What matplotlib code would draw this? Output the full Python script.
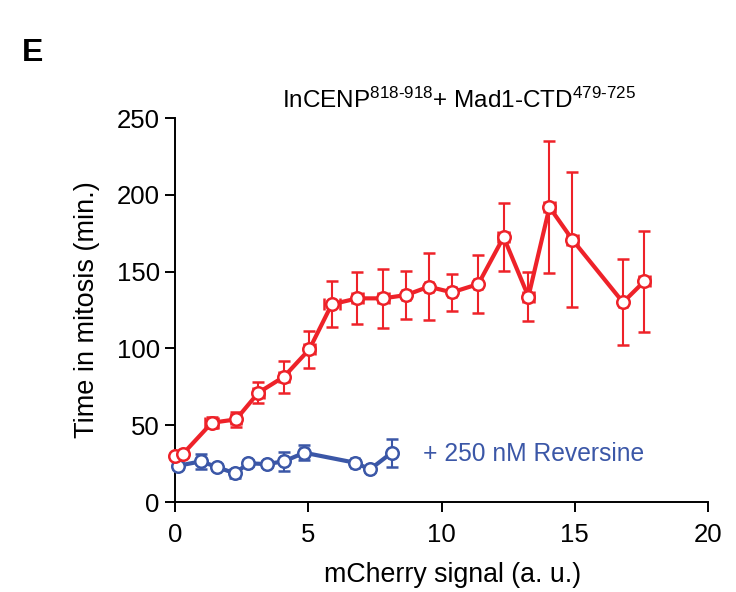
import matplotlib.pyplot as plt

plt.rcParams.update(
    {
        "font.family": ["Liberation Sans", "DejaVu Sans"],
        "mathtext.fontset": "custom",
        "mathtext.rm": "Liberation Sans",
        "mathtext.it": "Liberation Sans",
        "mathtext.bf": "Liberation Sans:bold",
        "font.size": 18,
    }
)

RED = "#ee2229"
BLUE = "#3b57a7"

# InCENP818-918 + Mad1-CTD479-725
red_x = [0.0, 0.29, 1.38, 2.29, 3.13, 4.09, 5.04, 5.88, 6.84, 7.82, 8.68, 9.52,
         10.39, 11.38, 12.33, 13.26, 14.05, 14.91, 16.81, 17.61]
red_y = [30.0, 31.2, 51.6, 53.8, 71.2, 81.6, 99.4, 128.7, 132.6, 132.6, 134.8, 140.2,
         136.5, 141.9, 172.5, 133.7, 192.0, 170.8, 130.0, 143.7]
red_yerr = [1.5, 2.0, 3.5, 5.0, 7.0, 10.5, 12.0, 15.0, 17.0, 19.0, 15.5, 22.0,
            12.0, 19.0, 22.0, 16.0, 43.0, 44.0, 28.0, 33.0]
red_xerr = [0.05, 0.05, 0.25, 0.2, 0.2, 0.2, 0.2, 0.3, 0.2, 0.2, 0.15, 0.15,
            0.15, 0.15, 0.2, 0.2, 0.2, 0.2, 0.15, 0.2]

# + 250 nM Reversine
blue_x = [0.12, 0.98, 1.59, 2.25, 2.75, 3.44, 4.09, 4.85, 6.75, 7.32, 8.13]
blue_y = [23.6, 26.5, 22.6, 18.7, 25.2, 24.7, 26.5, 32.1, 25.6, 21.3, 32.1]
blue_yerr = [2.0, 5.0, 2.0, 3.0, 2.0, 2.0, 6.0, 5.0, 2.0, 1.5, 9.0]
blue_xerr = [0.05, 0.1, 0.1, 0.1, 0.1, 0.1, 0.1, 0.15, 0.15, 0.1, 0.1]

fig = plt.figure(figsize=(7.36, 5.92), dpi=100)
ax = fig.add_axes([0.2378, 0.152, 0.7242, 0.6486])

for xs, ys, xe, ye, col in [
    (blue_x, blue_y, blue_xerr, blue_yerr, BLUE),
    (red_x, red_y, red_xerr, red_yerr, RED),
]:
    ax.errorbar(
        xs, ys, yerr=ye, xerr=xe,
        color=col, lw=3.0, elinewidth=1.5, capsize=4.5, capthick=1.5,
        marker="o", ms=9, mfc="white", mec=col, mew=1.8,
        clip_on=False, zorder=3,
    )

ax.set_xlim(0, 20)
ax.set_ylim(0, 250)
ax.set_xticks([0, 5, 10, 15, 20])
ax.set_yticks([0, 50, 100, 150, 200, 250])
ax.spines[["top", "right"]].set_visible(False)
for s in ["left", "bottom"]:
    ax.spines[s].set_linewidth(1.4)
ax.tick_params(direction="out", length=7, width=1.4, labelsize=18.5)
ax.tick_params(axis="x", pad=8)
ax.tick_params(axis="y", pad=4)

ax.set_xlabel("mCherry signal (a. u.)", fontsize=19.3)
ax.xaxis.set_label_coords(0.52, -0.155)
ax.set_ylabel("Time in mitosis (min.)", fontsize=19.5, labelpad=12)

ax.text(9.3, 31, "+ 250 nM Reversine", color=BLUE, fontsize=17.7, ha="left", va="center")

fig.text(
    0.624, 0.8176,
    r"InCENP$^{\text{818-918}}$+ Mad1-CTD$^{\text{479-725}}$",
    fontsize=17.5, ha="center", va="baseline",
)
fig.text(0.044, 0.911, "E", fontsize=23, fontweight="bold", ha="center", va="center")

fig.savefig("out.png", dpi=100)
